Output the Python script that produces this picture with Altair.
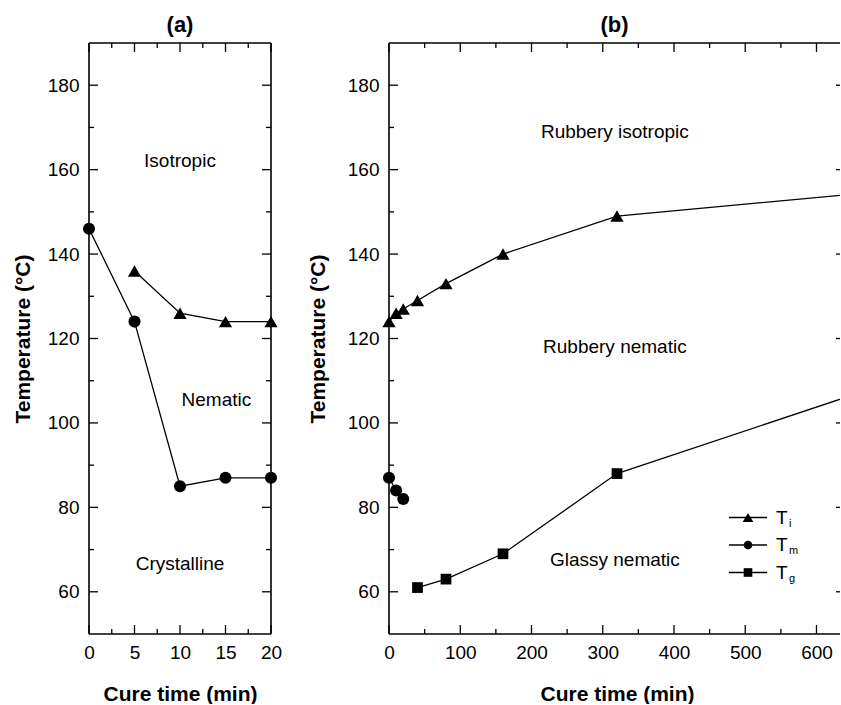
import altair as alt
import pandas as pd

FONT = "Liberation Sans"

# ---------------- data ----------------
# Panel (a)
a_time_i = [5, 10, 15, 20]
a_ti = [136, 126, 124, 124]
a_time_m = [0, 5, 10, 15, 20]
a_tm = [146, 124, 85, 87, 87]

# Panel (b)
b_time_i = [0, 10, 20, 40, 80, 160, 320, 640]
b_ti = [124, 126, 127, 129, 133, 140, 149, 154]
b_time_m = [0, 10, 20]
b_tm = [87, 84, 82]
b_time_g = [40, 80, 160, 320, 640]
b_tg = [61, 63, 69, 88, 106]

series_names = ["Ti", "Tm", "Tg"]
series_subs = ["i", "m", "g"]
series_shapes = ["triangle-up", "circle", "square"]
series_sizes = [175, 115, 115]

a_regions = ["Isotropic", "Nematic", "Crystalline"]
a_region_x = [10, 14, 10]
a_region_y = [162, 105.5, 66.5]
b_regions = ["Rubbery isotropic", "Rubbery nematic", "Glassy nematic"]
b_region_x = [317, 317, 317]
b_region_y = [169, 118, 67.5]

y_major = [60, 80, 100, 120, 140, 160, 180]
y_minor = [70, 90, 110, 130, 150, 170]
a_x_major = [0, 5, 10, 15, 20]
a_x_minor = [2.5, 7.5, 12.5, 17.5]
b_x_major = [0, 100, 200, 300, 400, 500, 600]
b_x_minor = [50, 150, 250, 350, 450, 550]

Y_DOMAIN = [50, 190]
A_X_DOMAIN = [0, 20]
B_X_DOMAIN = [0, 633]   # original frame runs to 640; the picture is cut at the right

H = 591
A_W = 182
B_W = 451
B_FULL_W = 456
MAJOR = 9
MINOR = 5
FRAME = 1.6
TICKW = 1.3


def series_frame(pairs):
    rows = []
    for name, xs, ys in pairs:
        for x, y in zip(xs, ys):
            rows.append({"time": x, "temp": y, "series": name})
    return pd.DataFrame(rows)


def tick_layers(X, Y, xmaj, xmin, W, right_major, right_minor, right_frame):
    one = pd.DataFrame({"k": [0]})
    layers = []
    # frame
    layers.append(alt.Chart(one).mark_rule(color="black", strokeWidth=FRAME).encode(
        x=alt.value(0), x2=alt.value(W), y=alt.value(0)))
    layers.append(alt.Chart(one).mark_rule(color="black", strokeWidth=FRAME).encode(
        x=alt.value(0), x2=alt.value(W), y=alt.value(H)))
    layers.append(alt.Chart(one).mark_rule(color="black", strokeWidth=FRAME).encode(
        x=alt.value(0), y=alt.value(0), y2=alt.value(H)))
    if right_frame:
        layers.append(alt.Chart(one).mark_rule(color="black", strokeWidth=FRAME).encode(
            x=alt.value(W), y=alt.value(0), y2=alt.value(H)))
    for vals, ln in ((xmaj, MAJOR), (xmin, MINOR)):
        d = pd.DataFrame({"time": vals})
        for y0, y1 in ((0, ln), (H, H - ln)):
            layers.append(
                alt.Chart(d).mark_rule(color="black", strokeWidth=TICKW).encode(
                    x=X, y=alt.value(y0), y2=alt.value(y1)))
    for vals, ln, rln in ((y_major, MAJOR, right_major), (y_minor, MINOR, right_minor)):
        d = pd.DataFrame({"temp": vals})
        layers.append(
            alt.Chart(d).mark_rule(color="black", strokeWidth=TICKW).encode(
                y=Y, x=alt.value(0), x2=alt.value(ln)))
        if rln > 0:
            layers.append(
                alt.Chart(d).mark_rule(color="black", strokeWidth=TICKW).encode(
                    y=Y, x=alt.value(W), x2=alt.value(W - rln)))
    return layers


def panel(title, df, xdomain, W, xmaj, xmin, reg, regx, regy, ytitle_pad,
          legend=False, right_major=MAJOR, right_minor=MINOR, right_frame=True,
          title_x=None, clip_lines=False):
    xscale = alt.Scale(domain=xdomain, nice=False, zero=False)
    yscale = alt.Scale(domain=Y_DOMAIN, nice=False, zero=False)
    xkw = dict(values=xmaj, format="d", title="Cure time (min)", ticks=False,
               domain=False, grid=False, labelFontSize=19, labelPadding=9,
               labelFlush=False, labelColor="black", titleColor="black",
               titleFontSize=21, titleFontWeight="bold", titlePadding=21)
    if title_x is not None:
        xkw["titleX"] = title_x
    xaxis = alt.Axis(**xkw)
    yaxis = alt.Axis(values=y_major, format="d", title="Temperature (°C)", ticks=False,
                     domain=False, grid=False, labelFontSize=19, labelPadding=10,
                     labelColor="black", titleColor="black",
                     titleFontSize=21, titleFontWeight="bold", titlePadding=ytitle_pad)
    X = alt.X("time:Q", scale=xscale, axis=xaxis)
    Y = alt.Y("temp:Q", scale=yscale, axis=yaxis)
    base = alt.Chart(df)
    lines = base.mark_line(color="black", strokeWidth=1.3, clip=clip_lines).encode(
        x=X, y=Y, detail="series:N")
    points = base.mark_point(filled=True, color="black", opacity=1).encode(
        x=X, y=Y,
        shape=alt.Shape("series:N", scale=alt.Scale(domain=series_names, range=series_shapes),
                        legend=None),
        size=alt.Size("series:N", scale=alt.Scale(domain=series_names, range=series_sizes),
                      legend=None),
    ).transform_filter(alt.datum.time <= xdomain[1])
    rdf = pd.DataFrame({"label": reg, "time": regx, "temp": regy})
    texts = alt.Chart(rdf).mark_text(fontSize=19, color="black", font=FONT).encode(
        x=X, y=Y, text="label:N")
    layers = [lines, points, texts] + tick_layers(X, Y, xmaj, xmin, W,
                                                  right_major, right_minor, right_frame)
    if legend:
        one = pd.DataFrame({"k": [0]})
        top = 474.5
        step = 27.5
        for i, (sub, shp, sz) in enumerate(zip(series_subs, series_shapes, series_sizes)):
            yy = top + i * step
            layers.append(alt.Chart(one).mark_rule(color="black", strokeWidth=1.3).encode(
                x=alt.value(340), x2=alt.value(378), y=alt.value(yy)))
            layers.append(alt.Chart(one).mark_point(filled=True, color="black", opacity=1,
                                                    size=sz * 0.65, shape=shp).encode(
                x=alt.value(359), y=alt.value(yy)))
            layers.append(alt.Chart(one).mark_text(fontSize=19, color="black", font=FONT,
                                                   align="left", baseline="middle").encode(
                x=alt.value(387), y=alt.value(yy), text=alt.value("T")))
            layers.append(alt.Chart(one).mark_text(fontSize=11, color="black", font=FONT,
                                                   align="left", baseline="middle").encode(
                x=alt.value(400), y=alt.value(yy + 6), text=alt.value(sub)))
    return alt.layer(*layers).properties(
        width=W, height=H,
        title=alt.TitleParams(title, fontSize=22, fontWeight="bold", offset=5,
                              anchor="middle", font=FONT, color="black"),
    )


df_a = series_frame([("Ti", a_time_i, a_ti), ("Tm", a_time_m, a_tm)])
df_b = series_frame([("Ti", b_time_i, b_ti), ("Tm", b_time_m, b_tm), ("Tg", b_time_g, b_tg)])

pa = panel("(a)", df_a, A_X_DOMAIN, A_W, a_x_major, a_x_minor,
           a_regions, a_region_x, a_region_y, 14)
pb = panel("(b)", df_b, B_X_DOMAIN, B_W, b_x_major, b_x_minor,
           b_regions, b_region_x, b_region_y, 19, legend=True,
           right_major=4, right_minor=0, right_frame=False, title_x=B_FULL_W / 2,
           clip_lines=True)

chart = alt.hconcat(pa, pb, spacing=25).properties(
    padding={"left": 12, "top": 14, "right": 0, "bottom": 0},
    background="white",
).configure(font=FONT).configure_view(stroke="transparent", strokeWidth=0)

chart.save("out.html", embed_options={"renderer": "svg", "actions": False})
